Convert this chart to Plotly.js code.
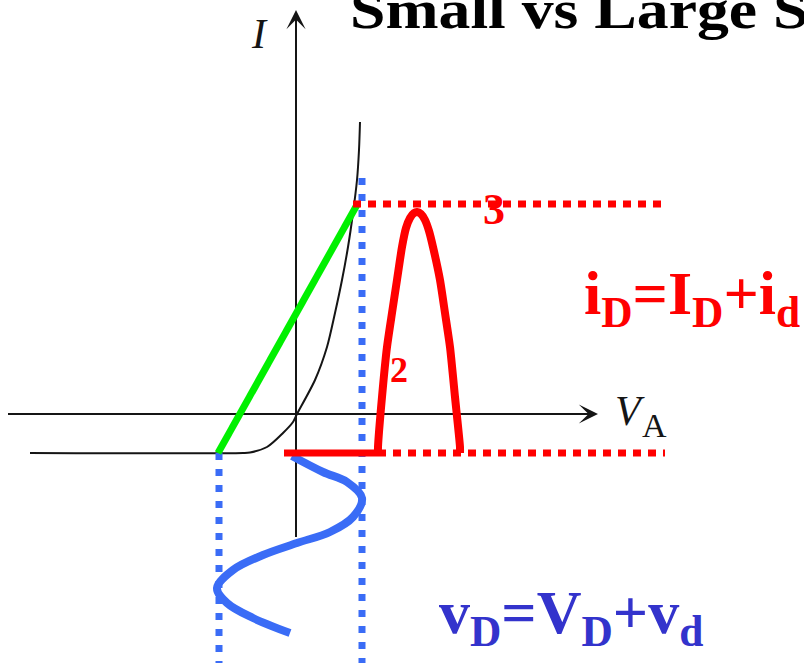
<!DOCTYPE html>
<html>
<head>
<meta charset="utf-8">
<script src="https://cdn.plot.ly/plotly-3.0.1.min.js"></script>
<style>html,body{margin:0;padding:0;background:#fff;}#chart{width:804px;height:663px;}</style>
</head>
<body>
<div id="chart"></div>
<script>
// Coordinate system: V (voltage axis, horizontal), I (current axis, vertical); origin at the axes crossing.
// Diode I-V characteristic
const curveV = [-2.66, -0.53, -0.46, -0.29, -0.13, -0.03, 0.01, 0.19, 0.31, 0.39, 0.46, 0.52, 0.57, 0.61, 0.63, 0.64];
const curveI = [-0.39, -0.39, -0.385, -0.33, -0.19, -0.08, 0.00, 0.34, 0.67, 1.01, 1.34, 1.67, 2.01, 2.34, 2.64, 2.92];

// Axes extents
const axisHV = [-2.88, 2.95], axisHI = [0, 0];
const axisVV = [0, 0], axisVI = [-1.23, 3.95];
const arrowTipsV = [3.02, 0.0], arrowTipsI = [0.0, 4.04];

// Green large-signal chord
const chordV = [-0.78, 0.62];
const chordI = [-0.39, 2.11];

// Red current levels
const topLevelV = [0.57, 3.69], topLevelI = [2.10, 2.10];
const baseSolidV = [-0.12, 0.82], baseSolidI = [-0.39, -0.39];
const baseDotV = [0.82, 3.69], baseDotI = [-0.39, -0.39];

// Red current pulse i_D(t)
const pulseT = [0.82, 0.82, 0.86, 0.91, 0.96, 1.01, 1.06, 1.10, 1.14, 1.18, 1.21, 1.25, 1.29, 1.33, 1.37, 1.44, 1.49, 1.54, 1.59, 1.64, 1.64];
const pulseI = [-0.39, -0.33, 0.17, 0.67, 1.01, 1.34, 1.67, 1.86, 1.96, 2.01, 2.02, 2.00, 1.94, 1.83, 1.67, 1.34, 1.01, 0.67, 0.17, -0.33, -0.39];

// Blue voltage guides
const guideLeftV = [-0.77, -0.77], guideLeftI = [-0.39, -2.49];
const guideRightV = [0.66, 0.66], guideRightI = [2.36, -2.49];

// Blue voltage sine v_D(t) (time runs downward)
const sineV = [-0.04, 0.27, 0.51, 0.66, 0.57, 0.34, 0.01, -0.33, -0.63, -0.79, -0.69, -0.43, -0.06];
const sineT = [-0.42, -0.58, -0.68, -0.84, -1.03, -1.18, -1.29, -1.41, -1.56, -1.74, -1.89, -2.04, -2.19];

// Labels
const titleText = 'Small vs Large Signal';
const labelI = 'I', labelV = 'V', labelA = 'A';
const label2 = '2', label3 = '3';
const eqCurrent = 'i<sub>D</sub>=I<sub>D</sub>+i<sub>d</sub>';
const eqVoltage = 'v<sub>D</sub>=V<sub>D</sub>+v<sub>d</sub>';

const INK = '#151515', RED = '#ff0000', GREEN = '#00f000', BLUE = '#3a6cf6', EQBLUE = '#3333cc';
const SERIF = '"Liberation Serif", "Times New Roman", Times, serif';

function ln(x, y, color, width, dash, shape, smooth) {
  return {x: x, y: y, type: 'scatter', mode: 'lines', hoverinfo: 'skip', showlegend: false,
    line: {color: color, width: width, dash: dash || 'solid', shape: shape || 'linear', smoothing: smooth || 1}};
}

const traces = [
  ln(axisHV, axisHI, INK, 2),
  ln(axisVV, axisVI, INK, 2),
  ln(curveV, curveI, INK, 2, 'solid', 'spline', 0.8),
  ln(guideLeftV, guideLeftI, BLUE, 7, '7px,9px'),
  ln(guideRightV, guideRightI, BLUE, 7, '7px,9px'),
  ln(sineV, sineT, BLUE, 8, 'solid', 'spline', 1),
  ln(chordV, chordI, GREEN, 7),
  ln(topLevelV, topLevelI, RED, 7, '8px,7px'),
  ln(baseDotV, baseDotI, RED, 7, '8px,7px'),
  ln(baseSolidV, baseSolidI, RED, 7),
  ln(pulseT, pulseI, RED, 8, 'solid', 'spline', 0.6)
];

const annotations = [
  // axis arrowheads
  {x: arrowTipsV[0], y: arrowTipsI[0], ax: arrowTipsV[0] - 0.15, ay: arrowTipsI[0], axref: 'x', ayref: 'y',
   xref: 'x', yref: 'y', text: '', showarrow: true, arrowhead: 3, arrowsize: 1.6, arrowwidth: 2, arrowcolor: INK, standoff: 0},
  {x: arrowTipsV[1], y: arrowTipsI[1], ax: arrowTipsV[1], ay: arrowTipsI[1] - 0.15, axref: 'x', ayref: 'y',
   xref: 'x', yref: 'y', text: '', showarrow: true, arrowhead: 3, arrowsize: 1.6, arrowwidth: 2, arrowcolor: INK, standoff: 0},
  {x: -0.37, y: 3.80, text: labelI, showarrow: false, font: {family: SERIF, size: 42, color: INK, style: 'italic'}},
  {x: 3.34, y: 0.03, text: labelV, showarrow: false, font: {family: SERIF, size: 42, color: INK, style: 'italic'}},
  {x: 3.58, y: -0.11, text: labelA, showarrow: false, font: {family: SERIF, size: 34, color: INK}},
  {x: 1.03, y: 0.44, text: '<b>' + label2 + '</b>', showarrow: false, font: {family: SERIF, size: 36, color: RED}},
  {x: 1.98, y: 2.05, text: '<b>' + label3 + '</b>', showarrow: false, font: {family: SERIF, size: 44, color: RED}},
  {x: 2.86, y: 1.17, xanchor: 'left', text: '<b>' + eqCurrent + '</b>', showarrow: false, font: {family: SERIF, size: 62, color: RED}},
  {x: 1.41, y: -2.02, xanchor: 'left', text: '<b>' + eqVoltage + '</b>', showarrow: false, font: {family: SERIF, size: 62, color: EQBLUE}},
  {x: 0.52, y: 4.04, xanchor: 'left', text: '<b>' + titleText + '</b>', showarrow: false, font: {family: SERIF, size: 54, color: '#000'}}
];

const layout = {
  width: 804, height: 663,
  margin: {l: 0, r: 0, t: 0, b: 0, pad: 0},
  paper_bgcolor: '#ffffff', plot_bgcolor: '#ffffff',
  xaxis: {range: [-2.96, 5.08], visible: false, fixedrange: true},
  yaxis: {range: [-2.49, 4.14], visible: false, fixedrange: true},
  showlegend: false,
  annotations: annotations
};

function stretchTitle() {
  // the reference title is typeset horizontally stretched
  const texts = document.querySelectorAll('#chart .annotation-text');
  const t = texts[texts.length - 1];
  if (t && t.getBBox) {
    const b = t.getBBox();
    const x0 = b.x, s = 1.18;
    t.setAttribute('transform', 'translate(' + x0 + ',0) scale(' + s + ',1) translate(' + (-x0) + ',0)');
  }
}

Plotly.newPlot('chart', traces, layout, {staticPlot: true, displayModeBar: false}).then(stretchTitle);
</script>
</body>
</html>
